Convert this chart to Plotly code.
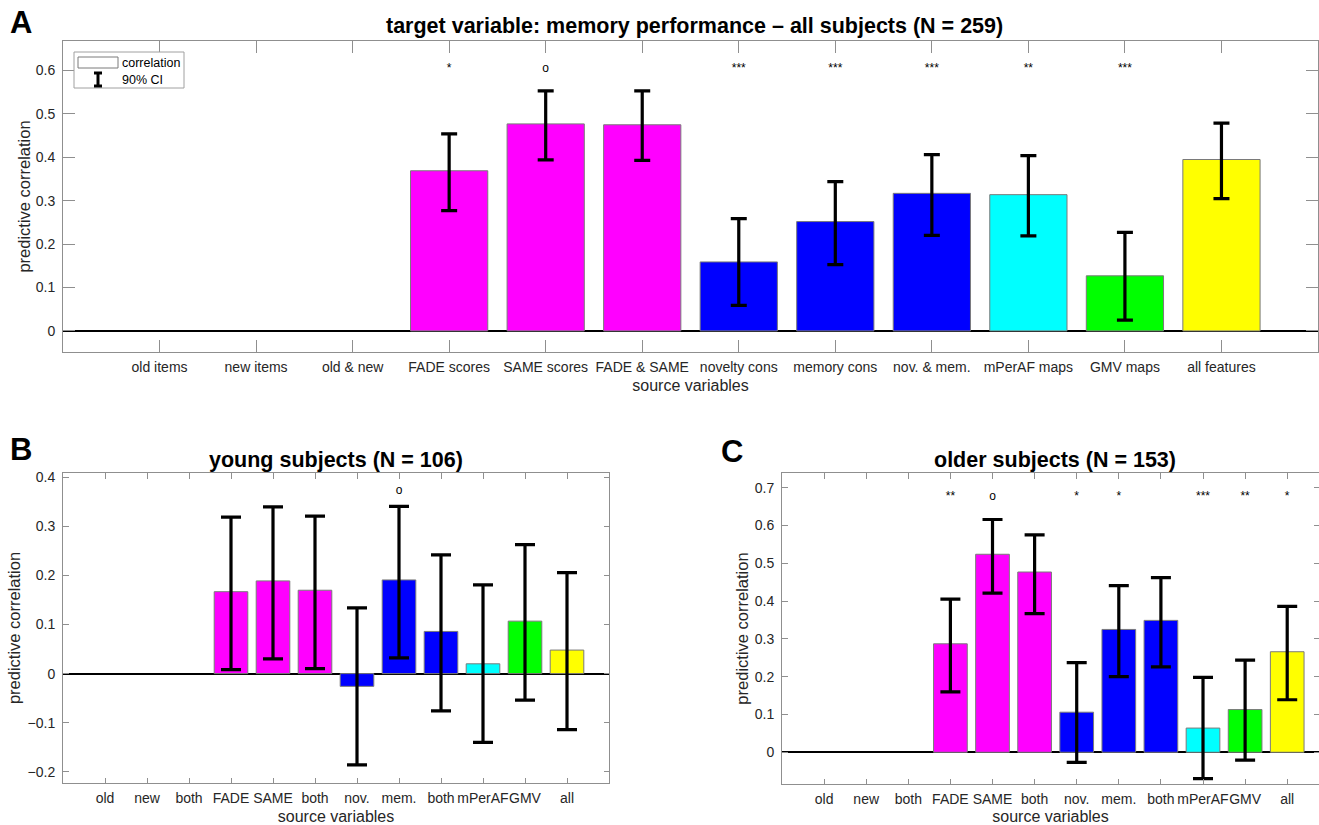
import plotly.graph_objects as go

# ---------------- data ----------------
labels_A = ["old items", "new items", "old & new", "FADE scores", "SAME scores", "FADE & SAME",
            "novelty cons", "memory cons", "nov. & mem.", "mPerAF maps", "GMV maps", "all features"]
labels_BC = ["old", "new", "both", "FADE", "SAME", "both", "nov.", "mem.", "both", "mPerAF", "GMV", "all"]

# panel A: all subjects (N = 259)
corr_A = [None, None, None, 0.369, 0.477, 0.475, 0.159, 0.252, 0.317, 0.314, 0.127, 0.395]
ci_lo_A = [None, None, None, 0.277, 0.394, 0.393, 0.059, 0.153, 0.220, 0.219, 0.025, 0.305]
ci_hi_A = [None, None, None, 0.454, 0.553, 0.553, 0.259, 0.344, 0.406, 0.404, 0.227, 0.479]
sig_A = ["", "", "", "*", "o", "", "***", "***", "***", "**", "***", ""]

# panel B: young subjects (N = 106)
corr_B = [None, None, None, 0.167, 0.189, 0.170, -0.026, 0.191, 0.086, 0.020, 0.107, 0.048]
ci_lo_B = [None, None, None, 0.008, 0.030, 0.010, -0.186, 0.032, -0.076, -0.140, -0.054, -0.114]
ci_hi_B = [None, None, None, 0.319, 0.340, 0.321, 0.134, 0.341, 0.242, 0.181, 0.263, 0.206]
sig_B = ["", "", "", "", "", "", "", "o", "", "", "", ""]

# panel C: older subjects (N = 153)
corr_C = [None, None, None, 0.287, 0.524, 0.477, 0.106, 0.325, 0.349, 0.064, 0.113, 0.266]
ci_lo_C = [None, None, None, 0.160, 0.421, 0.367, -0.027, 0.200, 0.226, -0.070, -0.021, 0.139]
ci_hi_C = [None, None, None, 0.405, 0.616, 0.575, 0.237, 0.441, 0.462, 0.198, 0.244, 0.386]
sig_C = ["", "", "", "**", "o", "", "*", "*", "", "***", "**", "*"]

# ---------------- styles ----------------
bar_colors = ["#FFFFFF", "#FFFFFF", "#FFFFFF", "#FF00FF", "#FF00FF", "#FF00FF",
              "#0000FF", "#0000FF", "#0000FF", "#00FFFF", "#00FF00", "#FFFF00"]
FONT = "Liberation Sans, Arial, sans-serif"
TXT = "#262626"
FRAME = "#8f8f8f"

W, H = 1319, 825


def px_x(p):
    return p / W


def px_y(p):
    return 1 - p / H


fig = go.Figure()
pos = list(range(1, len(labels_A) + 1))


def add_panel(idx, corr, lo, hi, sig, sig_y, cap):
    xa = "x" if idx == 1 else f"x{idx}"
    ya = "y" if idx == 1 else f"y{idx}"
    plus = [None if (h is None or c is None) else h - c for c, h in zip(corr, hi)]
    minus = [None if (l is None or c is None) else c - l for c, l in zip(corr, lo)]
    fig.add_trace(go.Bar(
        x=pos, y=corr, width=0.8, xaxis=xa, yaxis=ya,
        marker=dict(color=bar_colors, line=dict(color="#7a7a7a", width=1)),
        error_y=dict(type="data", array=plus, arrayminus=minus, visible=True,
                     color="black", thickness=3.2, width=cap),
        showlegend=False, hoverinfo="skip"))
    fig.add_trace(go.Scatter(
        x=pos, y=[sig_y] * len(pos), text=sig, mode="text", xaxis=xa, yaxis=ya,
        textfont=dict(family=FONT, size=12, color="black"),
        showlegend=False, hoverinfo="skip"))


add_panel(1, corr_A, ci_lo_A, ci_hi_A, sig_A, 0.603, 8)
add_panel(2, corr_B, ci_lo_B, ci_hi_B, sig_B, 0.372, 10)
add_panel(3, corr_C, ci_lo_C, ci_hi_C, sig_C, 0.675, 10)


def xaxis(domain, rng, ticktext, ticklen, anchor):
    return dict(domain=domain, range=rng, tickmode="array", tickvals=pos, ticktext=ticktext, anchor=anchor,
                ticks="inside", ticklen=ticklen, tickcolor=FRAME, tickwidth=1, tickangle=0,
                showline=True, linecolor=FRAME, linewidth=1, mirror="ticks",
                showgrid=False, zeroline=False, ticklabelstandoff=2,
                tickfont=dict(family=FONT, size=14, color=TXT),
                title=dict(text="source variables", font=dict(family=FONT, size=16, color=TXT), standoff=6))


def yaxis(domain, rng, dtick, anchor, ticklen, standoff):
    return dict(domain=domain, range=rng, dtick=dtick, tick0=0, anchor=anchor,
                ticks="inside", ticklen=ticklen, tickcolor=FRAME, tickwidth=1,
                showline=True, linecolor=FRAME, linewidth=1, mirror="ticks",
                showgrid=False, zeroline=True, zerolinecolor="black", zerolinewidth=2,
                ticklabelstandoff=4,
                tickfont=dict(family=FONT, size=14, color=TXT),
                title=dict(text="predictive correlation", font=dict(family=FONT, size=16.5, color=TXT),
                           standoff=standoff))


fig.update_layout(
    width=W, height=H, margin=dict(l=0, r=0, t=0, b=0, autoexpand=False),
    paper_bgcolor="white", plot_bgcolor="white",
    xaxis=xaxis([px_x(63), px_x(1318)], [0, 13], labels_A, 12, "y"),
    yaxis=yaxis([px_y(352), px_y(41)], [-0.0485, 0.668], 0.1, "x", 12, 0),
    xaxis2=xaxis([px_x(63), px_x(609)], [0, 13], labels_BC, 5.5, "y2"),
    yaxis2=yaxis([px_y(783), px_y(473)], [-0.223, 0.409], 0.1, "x2", 5.5, 2),
    xaxis3=xaxis([px_x(782), 1.0], [0, 12.755], labels_BC, 5.5, "y3"),
    yaxis3=yaxis([px_y(784), px_y(473)], [-0.084, 0.739], 0.1, "x3", 5.5, 1),
)

ann = []
# panel letters
for letter, (lx, ly) in zip(["A", "B", "C"], [(21, 23), (21, 450), (732, 451)]):
    ann.append(dict(text=f"<b>{letter}</b>", x=px_x(lx), y=px_y(ly), xref="paper", yref="paper",
                    showarrow=False, xanchor="center", yanchor="middle",
                    font=dict(family=FONT, size=31, color="black")))
# titles
titles = [("target variable: memory performance \u2013 all subjects (N = 259)", 694, 26),
          ("young subjects (N = 106)", 336, 460),
          ("older subjects (N = 153)", 1055, 460)]
for t, tx, ty in titles:
    ann.append(dict(text=f"<b>{t}</b>", x=px_x(tx), y=px_y(ty), xref="paper", yref="paper",
                    showarrow=False, xanchor="center", yanchor="middle",
                    font=dict(family=FONT, size=21.5, color="black")))


# legend for panel A (drawn in axis-domain coordinates)
def dx(p):
    return (p - 63) / (1318 - 63)


def dy(p):
    return (352 - p) / (352 - 41)


shapes = [
    dict(type="rect", xref="x domain", yref="y domain", x0=dx(74), x1=dx(184), y0=dy(88), y1=dy(52),
         line=dict(color="#a0a0a0", width=1), fillcolor="white", layer="above"),
    dict(type="rect", xref="x domain", yref="y domain", x0=dx(78), x1=dx(118), y0=dy(68), y1=dy(57),
         line=dict(color="#7a7a7a", width=1), fillcolor="white", layer="above"),
    dict(type="line", xref="x domain", yref="y domain", x0=dx(98), x1=dx(98), y0=dy(86), y1=dy(73),
         line=dict(color="black", width=3), layer="above"),
    dict(type="line", xref="x domain", yref="y domain", x0=dx(94), x1=dx(102), y0=dy(73), y1=dy(73),
         line=dict(color="black", width=3), layer="above"),
    dict(type="line", xref="x domain", yref="y domain", x0=dx(94), x1=dx(102), y0=dy(86), y1=dy(86),
         line=dict(color="black", width=3), layer="above"),
]
ann.append(dict(text="correlation", x=dx(120), y=dy(63), xref="x domain", yref="y domain",
                showarrow=False, xanchor="left", yanchor="middle",
                font=dict(family=FONT, size=12.5, color="black")))
ann.append(dict(text="90% CI", x=dx(120), y=dy(80), xref="x domain", yref="y domain",
                showarrow=False, xanchor="left", yanchor="middle",
                font=dict(family=FONT, size=12.5, color="black")))

fig.update_layout(annotations=ann, shapes=shapes)

fig.write_html("out.html", config={"displayModeBar": False},
               post_script="document.body.style.margin='0';document.body.style.overflow='hidden';")
